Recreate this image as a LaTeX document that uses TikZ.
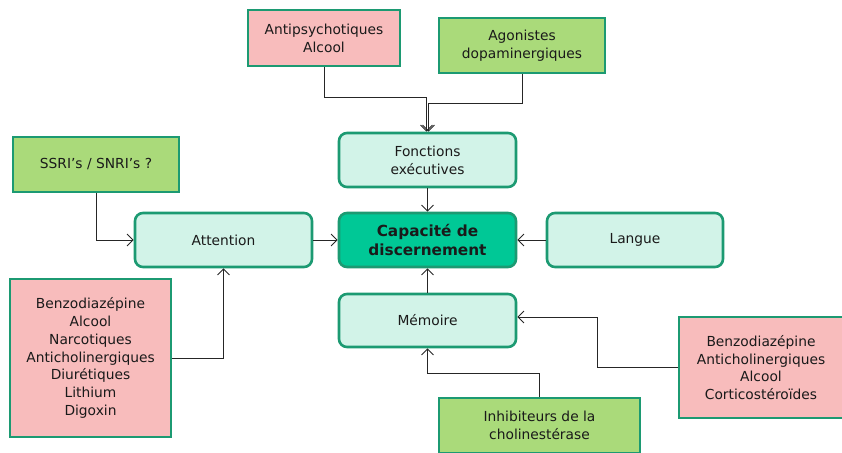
\documentclass[tikz,border=0pt]{standalone}
\usepackage{fontspec}
\setmainfont{DejaVu Sans}
\usetikzlibrary{arrows.meta,calc}
\definecolor{bord}{HTML}{1C9A72}
\definecolor{redf}{HTML}{F8BCBC}
\definecolor{greenf}{HTML}{AADA7A}
\definecolor{cellf}{HTML}{D2F3E8}
\definecolor{capf}{HTML}{00C896}
\definecolor{txt}{HTML}{1A1A1A}
\tikzset{
  base/.style={draw=bord, line width=2.6pt, align=center, inner sep=0pt, text=txt, font=\fontsize{13.8}{17.8}\selectfont},
  redbox/.style={base, fill=redf},
  greenbox/.style={base, fill=greenf},
  cellbox/.style={base, fill=cellf, rounded corners=8pt},
  capbox/.style={base, fill=capf, rounded corners=8pt, font=\fontsize{15.3}{18.5}\selectfont\bfseries},
  arr/.style={draw=black!85, line width=0.9pt, -{Straight Barb[length=6pt,width=12pt]}},
}
\begin{document}
\begin{tikzpicture}[x=1pt,y=-1pt]
\useasboundingbox (0,0) rectangle (842,452);
% nodes
\node[redbox, minimum width=152, minimum height=56] (anti) at (324,38) {Antipsychotiques\\Alcool};
\node[greenbox, minimum width=166, minimum height=55] (ago) at (522,45.5) {Agonistes\\dopaminergiques};
\node[cellbox, minimum width=177, minimum height=54] (fonc) at (427.5,160) {Fonctions\\exécutives};
\node[capbox, minimum width=177, minimum height=54] (cap) at (427.5,240) {Capacité de\\discernement};
\node[cellbox, minimum width=176, minimum height=54] (lang) at (635,240) {Langue};
\node[greenbox, minimum width=166, minimum height=55] (ssri) at (96,164.5) {SSRI’s / SNRI’s ?};
\node[cellbox, minimum width=177, minimum height=54] (attn) at (223.5,240) {Attention};
\node[redbox, minimum width=161, minimum height=158] (red1) at (90.5,358) {Benzodiazépine\\Alcool\\Narcotiques\\Anticholinergiques\\Diurétiques\\Lithium\\Digoxin};
\node[cellbox, minimum width=177, minimum height=53] (mem) at (427.5,320.5) {Mémoire};
\node[redbox, minimum width=164, minimum height=101] (red2) at (761,367.5) {Benzodiazépine\\Anticholinergiques\\Alcool\\Corticostéroïdes};
\node[greenbox, minimum width=201, minimum height=55] (inh) at (539.5,425.5) {Inhibiteurs de la\\cholinestérase};
% helper coordinates
\coordinate (ja) at (426.5,97);
\coordinate (jb) at (428.5,103);
\coordinate (jm) at (597,317);
\coordinate (ji) at (427.5,373);
% connectors
\draw[arr] (anti.south) |- (ja) -- (ja |- fonc.north);
\draw[arr] (ago.south) |- (jb) -- (jb |- fonc.north);
\draw[arr] (fonc.south) -- (cap.north);
\draw[arr] (ssri.south) |- (attn.west);
\draw[arr] (attn.east) -- (cap.west);
\draw[arr] (lang.west) -- (cap.east);
\draw[arr] (red1.east) -| (attn.south);
\draw[arr] (mem.north) -- (cap.south);
\draw[arr] (red2.west) -| (jm) -- (jm -| mem.east);
\draw[arr] (inh.north) |- (ji) -- (mem.south);
\end{tikzpicture}
\end{document}
